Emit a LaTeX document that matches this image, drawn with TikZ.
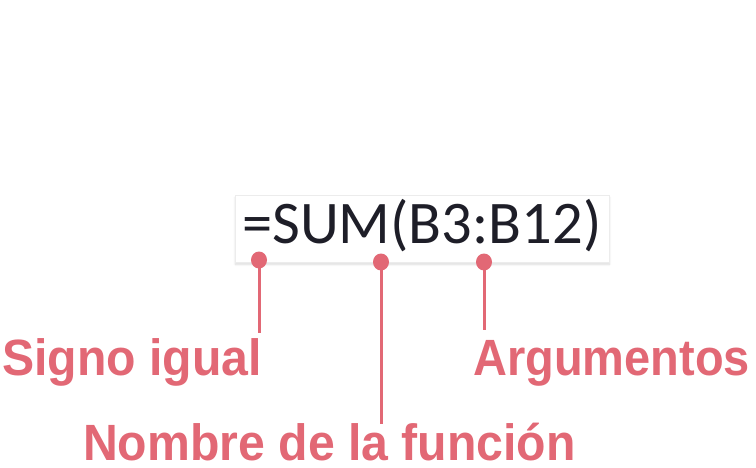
\documentclass[tikz,border=0pt]{standalone}
\usepackage{fontspec}
\setmainfont{Liberation Sans}
\newfontfamily\formulafont{Carlito}
\usetikzlibrary{shadows.blur}
\definecolor{callout}{RGB}{226,104,117}
\definecolor{formulatext}{RGB}{30,30,40}
\definecolor{boxedge}{RGB}{236,236,236}
\tikzset{
  labeltext/.style={inner sep=0pt, anchor=base west, text=callout, font=\bfseries\fontsize{51}{60}\selectfont, xscale=0.945, transform shape},
  pin/.style={fill=callout, draw=none},
  pinline/.style={draw=callout, line width=3pt},
  formulabox/.style={draw=boxedge, fill=white, line width=0.8pt, blur shadow={shadow blur steps=8, shadow xshift=0pt, shadow yshift=-2pt, shadow opacity=15}}
}
\begin{document}
\begin{tikzpicture}[x=1pt,y=-1pt]
\useasboundingbox (0,0) rectangle (756,467);
\node[formulabox, minimum width=374pt, minimum height=67pt, inner sep=0pt, anchor=north west] (box) at (235,195) {};
\node[inner sep=0pt, anchor=base west, text=formulatext, font=\formulafont\fontsize{60.5}{70}\selectfont] (formula) at (242,243) {=SUM(B3:B12)};
% pins
\coordinate (d1) at (259,260);
\coordinate (d2) at (381,262);
\coordinate (d3) at (484,262);
\coordinate (e1) at (259,333);
\coordinate (e2) at (381,424);
\coordinate (e3) at (484,330);
\draw[pinline] (d1) -- (e1);
\draw[pinline] (d2) -- (e2);
\draw[pinline] (d3) -- (e3);
\fill[pin] (d1) ellipse (8pt and 8.5pt);
\fill[pin] (d2) ellipse (8pt and 8.5pt);
\fill[pin] (d3) ellipse (8pt and 8.5pt);
\node[labeltext] (signo) at (2,375) {Signo igual};
\node[labeltext, xscale=0.975] (args) at (473,375) {Argumentos};
\node[labeltext] (nombre) at (83,460) {Nombre de la función};
\end{tikzpicture}
\end{document}
